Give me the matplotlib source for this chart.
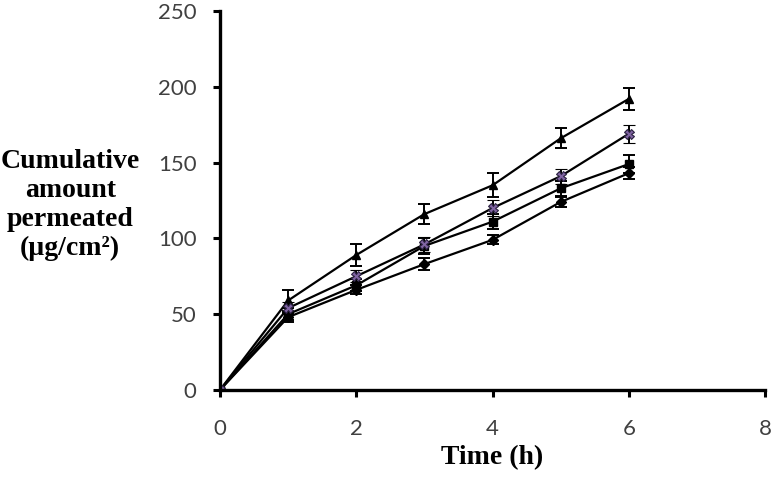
import numpy as np
import matplotlib
matplotlib.use("Agg")
import matplotlib.pyplot as plt

# 数据
time_h = [0, 1, 2, 3, 4, 5, 6]
tri = [0, 59, 89, 116, 135, 166, 192]
tri_err = [0, 7, 7, 6.5, 8, 6.5, 7.5]
sq = [0, 50, 69, 95, 111, 133, 149]
sq_err = [0, 4, 4, 5, 5, 5, 6]
dia = [0, 48, 66, 83, 99, 124, 143]
dia_err = [0, 3, 3, 4, 3, 3, 4]
star = [0, 54, 75, 96, 120, 141, 169]
star_err = [0, 4, 4, 5, 5, 5, 6]

xticks = [0, 2, 4, 6, 8]
yticks = [0, 50, 100, 150, 200, 250]

fig = plt.figure(figsize=(7.72, 4.79), dpi=100)
ax = fig.add_axes([0.285, 0.186, 0.706, 0.791])

common = dict(color="black", lw=1.6, ecolor="black", elinewidth=1.4, capsize=4.5, capthick=1.4)
ax.errorbar(time_h, tri, yerr=tri_err, marker="^", ms=6, mfc="black", mec="black", **common)
ax.errorbar(time_h, sq, yerr=sq_err, marker="s", ms=6, mfc="black", mec="black", **common)
ax.errorbar(time_h, dia, yerr=dia_err, marker="D", ms=5, mfc="black", mec="black", **common)
ax.errorbar(time_h, star, yerr=star_err, marker="X", ms=7, mfc="#8064A2", mec="#2a2040", mew=0.8, **common)

ax.set_xlim(0, 8); ax.set_ylim(0, 250)
ax.set_xticks(xticks); ax.set_yticks(yticks)
for s in ["top", "right"]:
    ax.spines[s].set_visible(False)
for s in ["left", "bottom"]:
    ax.spines[s].set_linewidth(2.4)
ax.tick_params(width=2.2, length=5, color="black", labelcolor="#404040", labelsize=16)
ax.tick_params(axis="y", pad=12)
ax.tick_params(axis="x", pad=16)
for lab in ax.get_xticklabels() + ax.get_yticklabels():
    lab.set_family("Lato")

ax.set_xlabel("Time (h)", fontsize=20, fontweight="bold", family="Liberation Serif", labelpad=4)
fig.text(0.091, 0.572, "Cumulative\namount\npermeated\n(µg/cm²)", ha="center", va="center",
         fontsize=20, fontweight="bold", family="Liberation Serif", linespacing=1.2)

fig.savefig("out.png", dpi=100)
